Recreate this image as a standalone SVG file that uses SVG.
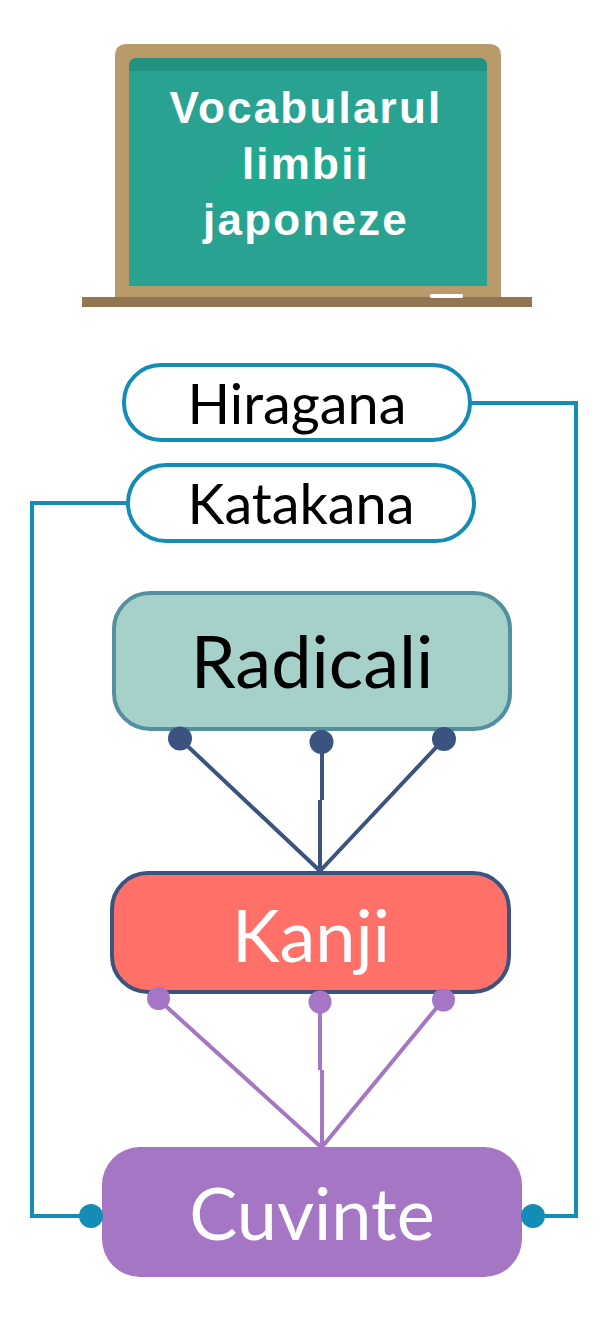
<svg xmlns="http://www.w3.org/2000/svg" width="606" height="1326" viewBox="0 0 606 1326">
<style>
.lato{font-family:Lato,"Noto Sans",sans-serif;text-anchor:middle}
.title{font-family:"Liberation Sans",Arial,sans-serif;font-weight:700;font-size:44px;letter-spacing:2.2px;fill:#fff;text-anchor:middle}
.teal{fill:none;stroke:#138db5;stroke-width:4}
.navy{fill:none;stroke:#3a547f;stroke-width:4}
.purple{fill:none;stroke:#a476c3;stroke-width:4}
.pill{fill:#fff;stroke:#138db5;stroke-width:4}
</style>
<rect width="606" height="1326" fill="#fff"/>
<g id="board">
<path d="M115 297V56Q115 44 127 44H489Q501 44 501 56V297Z" fill="#b99a6b"/>
<path d="M129 286V66Q129 58 137 58H479Q487 58 487 66V286Z" fill="#29a292"/>
<path d="M129 71V66Q129 58 137 58H479Q487 58 487 66V71Z" fill="#249280"/>
<path d="M208 190L230 170 275 128 290 125 283 165 322 128 333 125 320 165 372 125 392 123 345 175 310 210 285 225 262 250 282 195 250 215 222 210Z" fill="#22a98f" opacity=".7"/>
<rect x="82" y="297" width="450" height="10" fill="#907751"/>
<rect x="430" y="294" width="33" height="4" rx="1.5" fill="#fff"/>
<text class="title" x="306" y="122.700">Vocabularul</text>
<text class="title" x="306" y="178.700">limbii</text>
<text class="title" x="306" y="234.700">japoneze</text>
</g>
<g id="connectors">
<path class="teal" d="M470 403H576V1216H545"/>
<path class="teal" d="M128 503H32V1216H80"/>
<path class="navy" d="M180 739L320 871M444 739L320 871M322 742V800M320 800V871"/>
<path class="purple" d="M158 999L321 1147M443 1000L322 1147M320 1002V1070M322 1070V1147"/>
</g>
<g id="hiragana"><rect class="pill" x="124" y="365" width="346" height="75" rx="37"/><text class="lato" x="297" y="424" font-size="55.800">Hiragana</text></g>
<g id="katakana"><rect class="pill" x="128" y="465" width="346" height="76" rx="38"/><text class="lato" x="301" y="524" font-size="55.800">Katakana</text></g>
<g id="radicali"><rect x="114" y="593" width="396" height="136" rx="36" fill="#a6d1cb" stroke="#52909f" stroke-width="4"/><text class="lato" x="312" y="688" font-size="72">Radicali</text></g>
<g id="kanji"><rect x="112" y="873" width="397" height="119" rx="36" fill="#ff7068" stroke="#3a547f" stroke-width="4"/><text class="lato" x="311" y="962" font-size="72" fill="#fff">Kanji</text></g>
<g id="cuvinte"><rect x="102" y="1147" width="420" height="130" rx="38" fill="#a476c3"/><text class="lato" x="312" y="1240" font-size="72" fill="#fff">Cuvinte</text></g>
<g id="dots">
<circle cx="180" cy="738.500" r="12" fill="#3a547f"/><circle cx="321.500" cy="742" r="12" fill="#3a547f"/><circle cx="444" cy="739" r="12" fill="#3a547f"/>
<circle cx="158.500" cy="998.500" r="11.500" fill="#a476c3"/><circle cx="320" cy="1002" r="11.500" fill="#a476c3"/><circle cx="443.500" cy="1000" r="11.500" fill="#a476c3"/>
<circle cx="91" cy="1216" r="12" fill="#138db5"/><circle cx="533" cy="1216" r="12" fill="#138db5"/>
</g>
</svg>
